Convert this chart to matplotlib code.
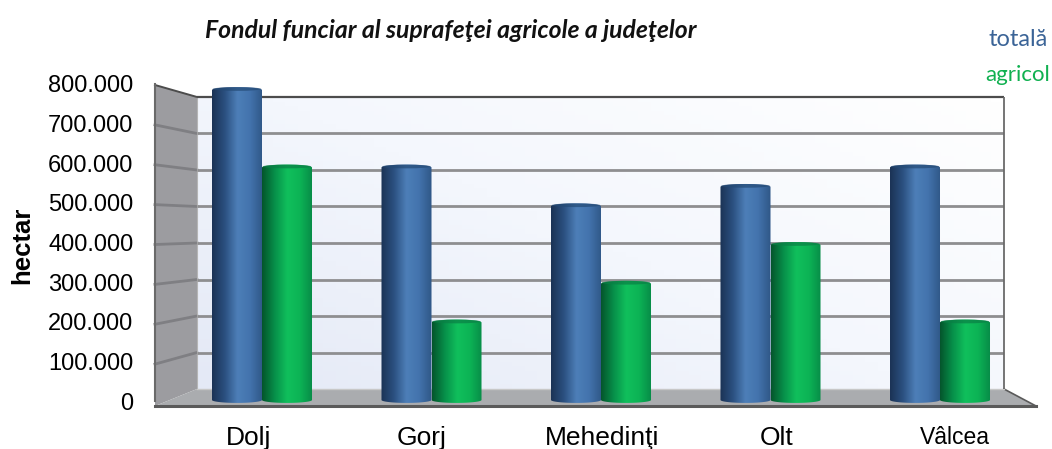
import numpy as np
import matplotlib
matplotlib.use("Agg")
import matplotlib.pyplot as plt
from matplotlib.colors import LinearSegmentedColormap
from matplotlib.patches import Polygon, Ellipse, PathPatch
from matplotlib.path import Path

counties = ["Dolj", "Gorj", "Mehedinţi", "Olt", "Vâlcea"]
totala = [800000, 600000, 500000, 550000, 600000]
agricol = [600000, 200000, 300000, 400000, 200000]
y_ticks = [0, 100000, 200000, 300000, 400000, 500000, 600000, 700000, 800000]

W, H = 1052, 449
BAR_W = 0.295
LABEL_SHIFT = [-0.08, -0.06, 0.005, 0.035, 0.09]

blue_cmap = LinearSegmentedColormap.from_list(
    "blue", ["#1b3355", "#2b5080", "#4d7fb8", "#4373ad", "#2f5787"])
green_cmap = LinearSegmentedColormap.from_list(
    "green", ["#04552c", "#07904a", "#10c05c", "#0cb355", "#078a47"])
wall_cmap = LinearSegmentedColormap.from_list("wall", ["#e4e9f6", "#f4f7fd", "#ffffff"])


def pixel_axes(fig, left, top, right, bottom):
    ax = fig.add_axes([left / W, 1 - bottom / H, (right - left) / W, (bottom - top) / H])
    ax.patch.set_alpha(0)
    return ax


def format_tick(value):
    return f"{value:,}".replace(",", ".")


def draw_cylinder(ax, center, value, cmap, rim_color):
    rx = BAR_W / 2
    ry = 7500  # ellipse half height in data units
    t = np.linspace(0, np.pi, 40)
    xs = center + rx * np.cos(t)
    verts = np.vstack([
        np.column_stack([xs[::-1], -ry * np.sin(t)]),
        np.column_stack([xs, value + ry * np.sin(t)]),
    ])
    clip = PathPatch(Path(verts), transform=ax.transData, fc="none", ec="none")
    ax.add_patch(clip)
    gradient = np.linspace(0, 1, 128).reshape(1, -1)
    im = ax.imshow(gradient, extent=(center - rx, center + rx, -ry, value + ry), cmap=cmap,
                   aspect="auto", interpolation="bilinear", zorder=3)
    im.set_clip_path(clip)
    im.set_clip_box(ax.figure.bbox)
    ax.add_patch(Ellipse((center, value + ry * 0.35), BAR_W * 0.97, ry * 1.3, fc=rim_color,
                         ec="none", alpha=0.7, zorder=4, clip_on=False))


def main():
    fig = plt.figure(figsize=(W / 100, H / 100), dpi=100, facecolor="white")

    # room walls, in figure pixels
    room = pixel_axes(fig, 0, 0, W, H)
    room.axis("off")

    u, v = np.meshgrid(np.linspace(0, 1, 64), np.linspace(1, 0, 64))
    room.imshow(u * 0.55 + v * 0.45, extent=(197, 1004, 389, 97), origin="upper",
                cmap=wall_cmap, aspect="auto", zorder=1)
    room.add_patch(Polygon([(155, 85), (197, 97), (197, 389), (155, 406)],
                           fc="#9c9ca0", ec="none", zorder=2))
    room.add_patch(Polygon([(155, 406), (197, 389), (1004, 389), (1036, 406)],
                           fc="#aaacaf", ec="none", zorder=2))
    room.set_xlim(0, W)
    room.set_ylim(H, 0)

    # back wall grid
    wall = pixel_axes(fig, 197, 97, 1004, 389)
    wall.set_ylim(0, 800000)
    wall.set_xlim(0, 1)
    wall.axis("off")
    wall.hlines(y_ticks[1:-1], 0, 1, colors="#8e8e90", lw=2)
    wall.hlines(y_ticks[-1], 0, 1, colors="#4c4c4c", lw=1.6, clip_on=False)
    wall.vlines(1, 0, 800000, colors="#6a6a6a", lw=1.3, clip_on=False)

    # front scale: tick labels and lines on the left wall
    front = pixel_axes(fig, 155, 84, 1032, 401)
    front.set_ylim(0, 800000)
    front.set_xlim(0, 1)
    for side in ["top", "right", "bottom"]:
        front.spines[side].set_visible(False)
    front.spines["left"].set_color("#6a6a6a")
    front.spines["left"].set_linewidth(1.5)
    front.set_xticks([])
    front.set_yticks(y_ticks)
    front.set_yticklabels([format_tick(t) for t in y_ticks])
    front.tick_params(axis="y", length=0, pad=15.5, labelsize=17)
    front.set_ylabel("hectar", fontsize=18.5, fontweight="bold")
    front.yaxis.set_label_coords(-0.138, 0.49)

    for t in y_ticks[1:-1]:
        y0 = 404 - t / 800000 * (404 - 85)
        y1 = 389 - t / 800000 * (389 - 97)
        room.plot([155, 197], [y0, y1], color="#7f7f83", lw=2, zorder=3)
    room.plot([155, 197], [85, 97], color="#4c4c4c", lw=1.4, zorder=3)
    room.plot([197, 197], [97, 389], color="#b5b5b5", lw=0.8, zorder=3)
    room.plot([155, 1036], [406, 406], color="#5a5a5a", lw=2.2, zorder=3)
    room.plot([1004, 1036], [389, 406], color="#5a5a5a", lw=1.2, zorder=3)
    room.plot([197, 1004], [389, 389], color="#c8c8c8", lw=1, zorder=3)
    room.set_xlim(0, W)
    room.set_ylim(H, 0)

    # cylinders
    bars = pixel_axes(fig, 92.5, 90, 1109.5, 400)
    x = np.arange(len(counties))
    for side in bars.spines.values():
        side.set_visible(False)
    bars.set_yticks([])
    bars.set_xticks(x + np.array(LABEL_SHIFT))
    bars.set_xticklabels(counties, fontsize=19)
    bars.tick_params(axis="both", length=0)
    bars.tick_params(axis="x", pad=18.5)
    bars.get_xticklabels()[-1].set_fontsize(16.5)

    for i in x:
        draw_cylinder(bars, i + BAR_W / 2, agricol[i], green_cmap, "#0a7f45")
        draw_cylinder(bars, i - BAR_W / 2, totala[i], blue_cmap, "#244a75")
    bars.set_xlim(-1, 5)
    bars.set_ylim(0, 800000)

    fig.text(205 / W, 1 - 31 / H, "Fondul funciar al suprafeţei agricole a judeţelor",
             fontsize=17.8, fontstyle="italic", fontweight="bold", family="Lato",
             va="center", ha="left", color="#111111")
    fig.text(1048 / W, 1 - 40 / H, "totală", fontsize=17, family="Lato", color="#3b6497",
             va="center", ha="right")
    fig.text(1050 / W, 1 - 75 / H, "agricol", fontsize=16, family="Lato", color="#10b050",
             va="center", ha="right")

    fig.savefig("out.png", dpi=100)
    plt.close(fig)


if __name__ == "__main__":
    plt.rcParams["font.family"] = ["Liberation Sans", "DejaVu Sans"]
    main()
